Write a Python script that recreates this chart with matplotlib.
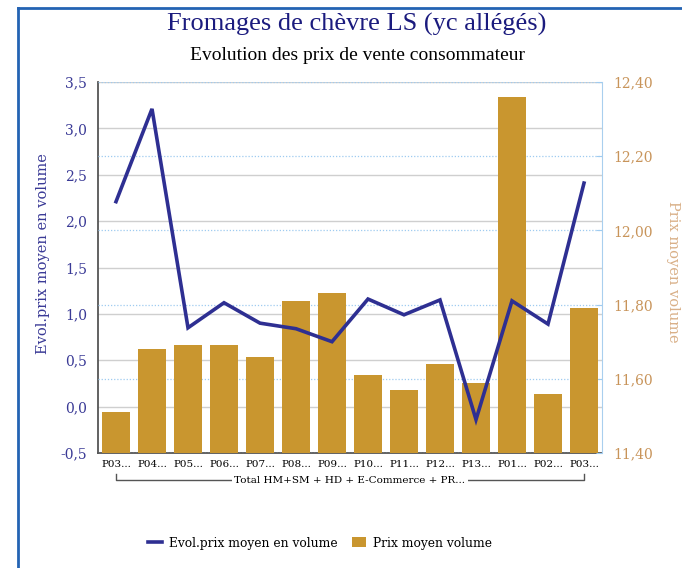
import matplotlib
matplotlib.use("Agg")
import matplotlib.pyplot as plt
from matplotlib.lines import Line2D
from matplotlib.patches import Patch
import numpy as np

categories = ["P03...", "P04...", "P05...", "P06...", "P07...", "P08...", "P09...",
              "P10...", "P11...", "P12...", "P13...", "P01...", "P02...", "P03..."]
group_label = "Total HM+SM + HD + E-Commerce + PR..."
evol_prix = [2.21, 3.21, 0.85, 1.12, 0.90, 0.84, 0.70, 1.16, 0.99, 1.15, -0.14, 1.14, 0.89, 2.41]
prix_moyen = [11.51, 11.68, 11.69, 11.69, 11.66, 11.81, 11.83, 11.61, 11.57, 11.64, 11.59, 12.36, 11.56, 11.79]

left_ticks = [-0.5, 0.0, 0.5, 1.0, 1.5, 2.0, 2.5, 3.0, 3.5]
right_ticks = [11.40, 11.60, 11.80, 12.00, 12.20, 12.40]

LINE_C = "#2e2f92"
BAR_C = "#c9962f"
LEFT_TXT = "#3a3a96"
RIGHT_TXT = "#c8945a"
SERIF = ["DejaVu Serif"]

fig = plt.figure(figsize=(6.82, 5.68), dpi=100)
ax = fig.add_axes([98/682, 115/568, 504/682, 371/568])
ax2 = ax.twinx()

x = np.arange(len(categories))

# left axis gridlines (solid gray)
ax.set_ylim(-0.5, 3.5)
ax.set_yticks(left_ticks)
ax.set_yticklabels([f"{t:.1f}".replace(".", ",") for t in left_ticks],
                   color=LEFT_TXT, fontsize=10, family=SERIF)
ax.yaxis.grid(True, color="#cfcfcf", linewidth=1.0)
ax.tick_params(axis="y", length=0, pad=8)

# bars on right axis
ax2.set_axisbelow(True)
ax2.bar(x, prix_moyen, width=0.78, bottom=0, color=BAR_C, zorder=2)
ax2.set_ylim(11.40, 12.40)
ax2.set_yticks(right_ticks)
ax2.set_yticklabels([f"{t:.2f}".replace(".", ",") for t in right_ticks],
                    color=RIGHT_TXT, fontsize=10, family=SERIF)
ax2.yaxis.grid(True, color="#9fcbf0", linewidth=0.9, linestyle=(0, (1, 1.5)))
ax2.tick_params(axis="y", length=4, direction="in", color="#9fcbf0", pad=8)

# line drawn over bars, using left-axis scale
ax2.plot(x, evol_prix, color=LINE_C, linewidth=2.6, zorder=3,
         transform=ax.transData, solid_joinstyle="miter")
ax2.set_ylim(11.40, 12.40)

ax.set_xlim(-0.5, len(categories) - 0.5)
ax.set_xticks(x)
ax.set_xticklabels(categories, fontsize=7.5, family=SERIF)
ax.tick_params(axis="x", length=0, pad=5)

for a in (ax, ax2):
    a.spines["top"].set_visible(False)
ax.spines["left"].set_color("#555555")
ax.spines["bottom"].set_color("#555555")
ax.spines["right"].set_visible(False)
ax2.spines["left"].set_visible(False)
ax2.spines["bottom"].set_visible(False)
ax2.spines["right"].set_color("#a9cfee")
ax.spines["left"].set_linewidth(1.3)
ax.spines["bottom"].set_linewidth(1.3)

# group bracket
tr = ax.get_xaxis_transform()
yb, yt = -0.073, -0.057
ax.add_line(Line2D([x[0], x[0], x[-1], x[-1]], [yt, yb, yb, yt], transform=tr,
                   color="#555555", linewidth=1.0, clip_on=False))
ax.text((x[0] + x[-1]) / 2, yb, group_label, transform=tr, ha="center", va="center",
        fontsize=7.5, family=SERIF, clip_on=False, zorder=5,
        bbox=dict(facecolor="white", edgecolor="none", pad=2))

# axis labels
fig.text(43/682, 1 - 254/568, "Evol.prix moyen en volume", rotation=90, ha="center",
         va="center", color=LEFT_TXT, fontsize=10.5, family=SERIF)
fig.text(673/682, 1 - 272/568, "Prix moyen volume", rotation=270, ha="center", va="center",
         color="#d9b088", fontsize=10.5, family=SERIF)

# titles
fig.text(357/682, 1 - 24/568, "Fromages de chèvre LS (yc allégés)", ha="center", va="center",
         fontsize=19, color="#1b1b7e", family=["Liberation Serif"])
fig.text(357/682, 1 - 55/568, "Evolution des prix de vente consommateur", ha="center",
         va="center", fontsize=14, color="black", family=["Liberation Serif"])

# legend
handles = [Line2D([0], [0], color=LINE_C, linewidth=2.6),
           Patch(facecolor=BAR_C, edgecolor="none")]
fig.legend(handles, ["Evol.prix moyen en volume", "Prix moyen volume"], loc="center",
           bbox_to_anchor=(320/682, 1 - 543/568), ncol=2, frameon=False,
           prop={"family": "DejaVu Serif", "size": 8.8}, handlelength=1.1,
           handleheight=0.9, columnspacing=1.2, handletextpad=0.6)

# frame
fig.add_artist(Line2D([18/682, 18/682], [0, 1 - 8/568], transform=fig.transFigure,
                      color="#2463b3", linewidth=2.0))
fig.add_artist(Line2D([18/682, 1], [1 - 8/568, 1 - 8/568], transform=fig.transFigure,
                      color="#2463b3", linewidth=2.0))

fig.savefig("out.png", dpi=100)
